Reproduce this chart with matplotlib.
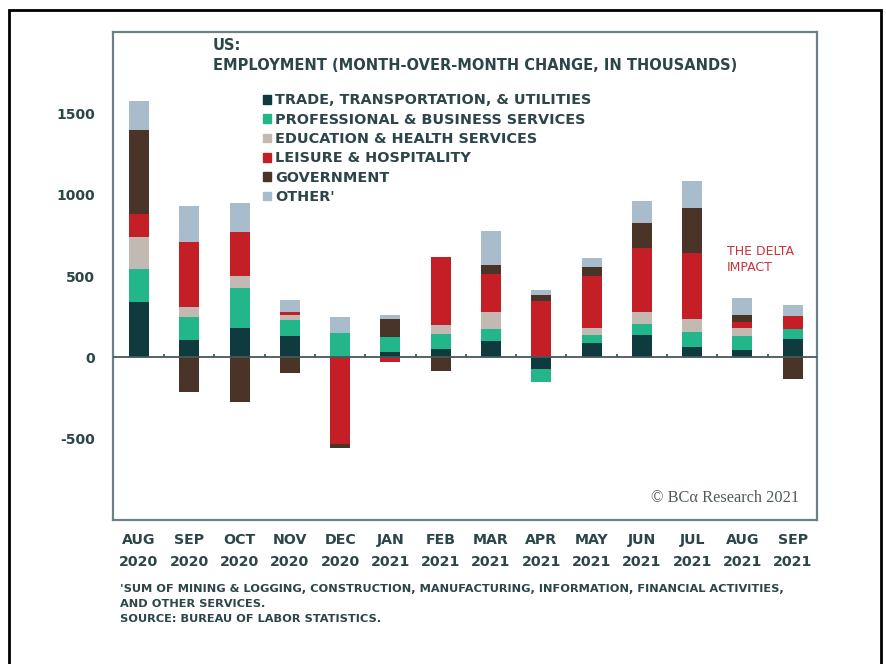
import numpy as np
import matplotlib
matplotlib.use('Agg')
import matplotlib.pyplot as plt
from matplotlib.patches import Patch, Rectangle

months = ['AUG\n2020', 'SEP\n2020', 'OCT\n2020', 'NOV\n2020', 'DEC\n2020', 'JAN\n2021', 'FEB\n2021',
          'MAR\n2021', 'APR\n2021', 'MAY\n2021', 'JUN\n2021', 'JUL\n2021', 'AUG\n2021', 'SEP\n2021']

# month-over-month change, thousands
trade = [343, 108, 182, 131, 0, 33, 53, 98, -70, 88, 139, 63, 43, 115]
prof = [201, 139, 243, 96, 151, 92, 92, 78, -81, 47, 68, 92, 88, 57]
edu = [198, 61, 78, 31, 0, 0, 55, 102, 0, 47, 71, 82, 51, 0]
leisure = [139, 399, 265, 20, -535, -28, 419, 235, 345, 316, 394, 405, 34, 81]
gov = [515, -216, -274, -96, -25, 108, -86, 55, 41, 60, 154, 276, 42, -131]
other = [180, 221, 180, 77, 100, 25, 0, 211, 25, 53, 132, 167, 108, 70]

series = [
    ('TRADE, TRANSPORTATION, & UTILITIES', trade, '#0f3a3e'),
    ('PROFESSIONAL & BUSINESS SERVICES', prof, '#22b68a'),
    ('EDUCATION & HEALTH SERVICES', edu, '#c2bab2'),
    ('LEISURE & HOSPITALITY', leisure, '#c41f26'),
    ('GOVERNMENT', gov, '#4a3427'),
    ('OTHER\'', other, '#a8bccb'),
]

txt = '#2c4548'
frame = '#6a8283'
plt.rcParams['font.family'] = ['DejaVu Sans']

fig = plt.figure(figsize=(8.86, 6.64), dpi=100)
ax = fig.add_axes([113 / 886, 1 - 520 / 664, 704 / 886, 488 / 664])

x = np.arange(len(months))
pos = np.zeros(len(months))
neg = np.zeros(len(months))
handles = []
for name, vals, col in series:
    v = np.array(vals, dtype=float)
    b = np.where(v >= 0, pos, neg)
    ax.bar(x, v, 0.4, bottom=b, color=col, linewidth=0, zorder=2)
    pos = pos + np.where(v > 0, v, 0)
    neg = neg + np.where(v < 0, v, 0)
    handles.append(Patch(color=col, label=name))

ax.set_xlim(-0.517, 13.483)
ax.set_ylim(-1000, 2000)
ax.axhline(0, color='#44585a', lw=1.3, zorder=3)
ax.vlines(x[:-1] + 0.5, 0, 22, color='#44585a', lw=1.3, zorder=3)

for s in ax.spines.values():
    s.set_color(frame)
    s.set_linewidth(1.6)

ax.set_yticks([-500, 0, 500, 1000, 1500])
ax.set_yticklabels(['-500', '0', '500', '1000', '1500'], fontsize=10, fontweight='bold', color=txt)
ax.tick_params(axis='y', length=0, pad=13)
ax.set_xticks([])

for i, m in enumerate(months):
    ax.text(i, -1082, m, ha='center', va='top', fontsize=10.2, fontweight='bold', color=txt,
            linespacing=1.7)

ax.text(0.142, 0.987, 'US:\nEMPLOYMENT (MONTH-OVER-MONTH CHANGE, IN THOUSANDS)', transform=ax.transAxes,
        ha='left', va='top', fontsize=10.5, fontweight='bold', color=txt, linespacing=1.4)

leg = ax.legend(handles=handles, loc='upper left', bbox_to_anchor=(0.205, 0.886), frameon=False,
                handlelength=0.55, handleheight=0.55, handletextpad=0.3, labelspacing=0.37,
                borderaxespad=0, prop={'size': 10.4, 'weight': 'bold'})
for t in leg.get_texts():
    t.set_color(txt)

ax.text(0.872, 0.563, 'THE DELTA\nIMPACT', transform=ax.transAxes, ha='left', va='top',
        fontsize=9, color='#c8333b', linespacing=1.3)

ax.text(0.975, 0.045, '\u00a9 BC\u03b1 Research 2021', transform=ax.transAxes, ha='right', va='center',
        fontsize=11.8, family=['Liberation Serif', 'DejaVu Serif'], color='#505a5c')

fig.text(120 / 886, 1 - 584 / 664,
         '\'SUM OF MINING & LOGGING, CONSTRUCTION, MANUFACTURING, INFORMATION, FINANCIAL ACTIVITIES,\n'
         'AND OTHER SERVICES.\nSOURCE: BUREAU OF LABOR STATISTICS.',
         ha='left', va='top', fontsize=8.2, fontweight='bold', color=txt, linespacing=1.6)

# outer black frame (bottom edge is cut off in the reference)
fig.add_artist(Rectangle((9 / 886, -0.05), 872 / 886, 1.05 - 10 / 664, transform=fig.transFigure,
                         fill=False, edgecolor='black', lw=2))

fig.savefig('out.png', dpi=100)
